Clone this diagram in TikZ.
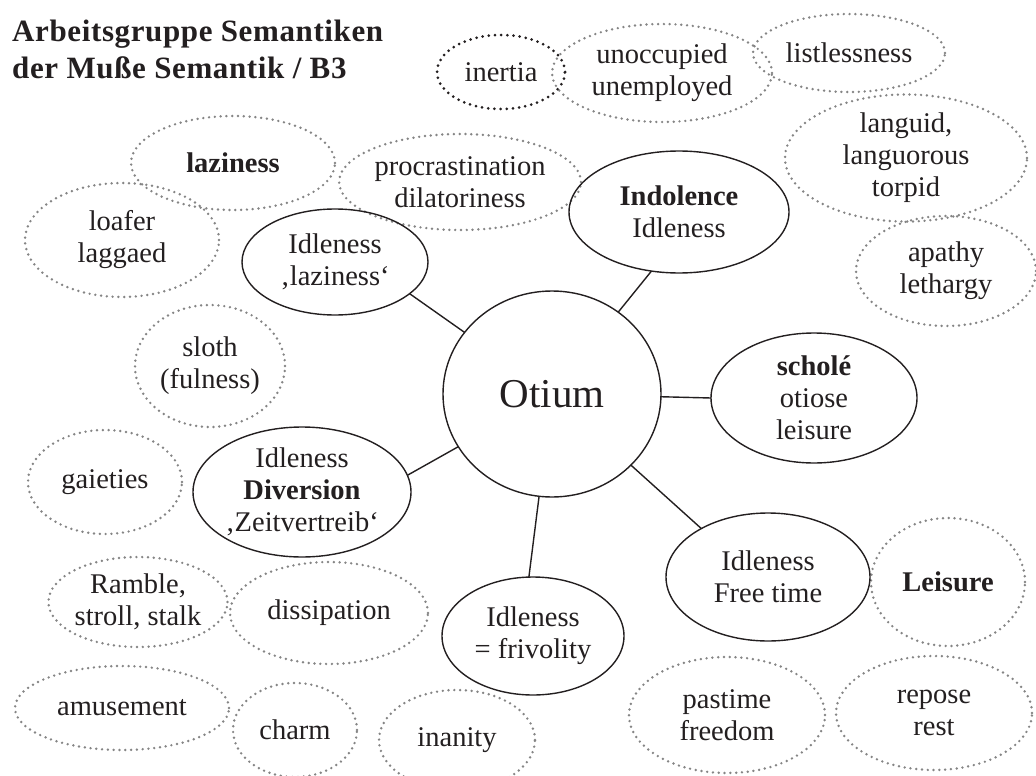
\documentclass[tikz,border=0pt]{standalone}
\usepackage{fontspec}
\setmainfont{Liberation Serif}
\usetikzlibrary{shapes.geometric}
\definecolor{ink}{HTML}{231F20}
\definecolor{dotgray}{HTML}{858585}
\tikzset{
  bubble/.style={ellipse, inner sep=0pt, outer sep=0pt, align=center, text=ink,
    font=\fontsize{28.5}{32}\selectfont},
  dotbubble/.style={bubble, draw=dotgray, line width=2.7pt, line cap=round,
    dash pattern=on 0pt off 5.8pt},
  darkbubble/.style={bubble, draw=ink, line width=3pt, line cap=round,
    dash pattern=on 0pt off 6.2pt},
  solidbubble/.style={bubble, draw=ink, line width=1.4pt},
  link/.style={draw=ink, line width=1.4pt},
}
\begin{document}
\begin{tikzpicture}[x=1pt,y=-1pt]
\useasboundingbox (0,0) rectangle (1036,776);

% title
\node[anchor=north west, inner sep=0pt, align=left, text=ink,
  font=\fontsize{31}{37}\selectfont\bfseries\addfontfeature{LetterSpace=2}] (title) at (12,20)
  {Arbeitsgruppe Semantiken\\der Muße Semantik / B3};

% dotted bubbles
\node[darkbubble, minimum width=128pt, minimum height=74pt] (inertia) at (501,72) {inertia};
\node[dotbubble, minimum width=220pt, minimum height=98pt] (unocc) at (662,73) {unoccupied\\unemployed};
\node[dotbubble, minimum width=192pt, minimum height=78pt] (listless) at (849,53) {listlessness};
\node[dotbubble, minimum width=242pt, minimum height=124pt] (languid) at (906,158) {languid,\\languorous\\torpid};
\node[dotbubble, minimum width=180pt, minimum height=110pt] (apathy) at (946,271) {apathy\\lethargy};
\node[dotbubble, minimum width=204pt, minimum height=94pt] (lazy) at (233,163) {\textbf{laziness}};
\node[dotbubble, minimum width=240pt, minimum height=96pt] (procr) at (460,182) {procrastination\\dilatoriness};
\node[dotbubble, minimum width=194pt, minimum height=114pt] (loafer) at (122,240) {loafer\\laggaed};
\node[dotbubble, minimum width=150pt, minimum height=122pt] (sloth) at (210,366) {sloth\\(fulness)};
\node[dotbubble, minimum width=154pt, minimum height=104pt] (gai) at (105,482) {gaieties};
\node[dotbubble, minimum width=176pt, minimum height=90pt] (ramble) at (138,602) {Ramble,\\stroll, stalk};
\node[dotbubble, minimum width=198pt, minimum height=102pt] (dissip) at (329,613) {dissipation};
\node[dotbubble, minimum width=214pt, minimum height=84pt] (amuse) at (122,708) {amusement};
\node[dotbubble, minimum width=124pt, minimum height=94pt] (charm) at (295,730) {charm};
\node[dotbubble, minimum width=156pt, minimum height=100pt] (inan) at (457,740) {inanity};
\node[dotbubble, minimum width=154pt, minimum height=128pt] (leis) at (948,582) {\textbf{Leisure}};
\node[dotbubble, minimum width=196pt, minimum height=116pt] (past) at (727,715) {pastime\\freedom};
\node[dotbubble, minimum width=196pt, minimum height=114pt] (repose) at (934,713) {repose\\rest};

% solid bubbles
\node[solidbubble, minimum width=218pt, minimum height=206pt,
  font=\fontsize{41}{41}\selectfont] (otium) at (552,394) {Otium};
\node[solidbubble, minimum width=220pt, minimum height=122pt] (indol) at (679,212) {\textbf{Indolence}\\Idleness};
\node[solidbubble, minimum width=186pt, minimum height=106pt] (laz) at (335,262) {Idleness\\‚laziness‘};
\node[solidbubble, minimum width=218pt, minimum height=130pt] (div) at (302,492) {Idleness\\\textbf{Diversion}\\‚Zeitvertreib‘};
\node[solidbubble, minimum width=206pt, minimum height=130pt] (sch) at (814,398) {\textbf{scholé}\\otiose\\leisure};
\node[solidbubble, minimum width=204pt, minimum height=128pt] (free) at (768,577) {Idleness\\Free time};
\node[solidbubble, minimum width=182pt, minimum height=118pt] (friv) at (533,636) {Idleness\\= frivolity};

% connectors
\draw[link] (otium) -- (indol.245);
\draw[link] (otium) -- (laz.-23);
\draw[link] (otium) -- (div.9);
\draw[link] (otium) -- (sch.180);
\draw[link] (otium) -- (free.144);
\draw[link] (otium) -- (friv.94);
\end{tikzpicture}
\end{document}
